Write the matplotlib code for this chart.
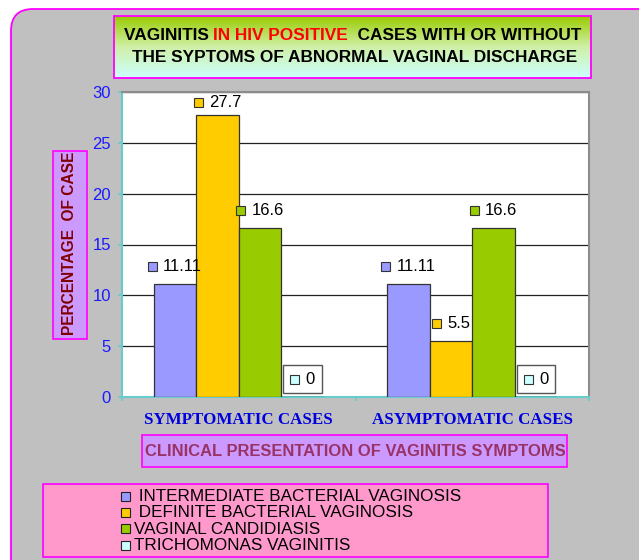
import matplotlib
matplotlib.use('Agg')
import matplotlib.pyplot as plt
import numpy as np
from matplotlib.patches import FancyBboxPatch, Rectangle
from matplotlib.offsetbox import AnnotationBbox, HPacker, TextArea, DrawingArea
from matplotlib.colors import LinearSegmentedColormap

# ---------------- data ----------------
categories = ['SYMPTOMATIC CASES', 'ASYMPTOMATIC CASES']
series_names = [' INTERMEDIATE BACTERIAL VAGINOSIS', ' DEFINITE BACTERIAL VAGINOSIS',
                'VAGINAL CANDIDIASIS', 'TRICHOMONAS VAGINITIS']
intermediate_bv = [11.11, 11.11]
definite_bv = [27.7, 5.5]
candidiasis = [16.6, 16.6]
trichomonas = [0, 0]
y_ticks = [0, 5, 10, 15, 20, 25, 30]
title_parts = [('VAGINITIS ', 'black'), ('IN HIV POSITIVE', '#FF0000'), ('  CASES WITH OR WITHOUT', 'black')]
title_line2 = 'THE SYPTOMS OF ABNORMAL VAGINAL DISCHARGE'
y_title = 'PERCENTAGE  OF CASE'
x_title = 'CLINICAL PRESENTATION OF VAGINITIS SYMPTOMS'

series = [intermediate_bv, definite_bv, candidiasis, trichomonas]
colors = ['#9999FF', '#FFCC00', '#99CC00', '#CCFFFF']

W, H = 639, 560
fig = plt.figure(figsize=(W / 100, H / 100), dpi=100)
fig.patch.set_facecolor('white')

SANS = 'Liberation Sans'
SERIF = 'Liberation Serif'

# ---------------- background / decorations (pixel coords) ----------------
bg = fig.add_axes([0, 0, 1, 1])
bg.set_zorder(0)
bg.axis('off')

bg.add_patch(FancyBboxPatch((11, 9), 700, 620, boxstyle='round,pad=0,rounding_size=22',
                            fc='#C0C0C0', ec='#FF00FF', lw=1.3))

# title box with gradient
grad = np.linspace(0, 1, 200)[:, None]
cmap = LinearSegmentedColormap.from_list('g', ['#99CC00', '#D0F0A8', '#CCFFFF'])
bg.imshow(grad, extent=[114, 591, 78, 16], cmap=cmap, aspect='auto', zorder=1, interpolation='bilinear')
bg.add_patch(Rectangle((114, 16), 477, 62, fill=False, ec='#FF00FF', lw=1.3, zorder=2))

# y title box
bg.add_patch(Rectangle((53, 151), 34, 188, fc='#CC99FF', ec='#FF00FF', lw=1.2, zorder=1))
bg.text(70, 243, y_title, rotation=90, ha='center', va='center', fontsize=11.2,
        fontweight='bold', color='#800000', family=SANS, zorder=3)

# x title box
bg.add_patch(Rectangle((142, 435), 425, 32, fc='#CC99FF', ec='#FF00FF', lw=1.2, zorder=1))
bg.text(355, 451.5, x_title, ha='center', va='center', fontsize=11.9,
        fontweight='bold', color='#993366', family=SANS, zorder=3)

# legend box
bg.add_patch(Rectangle((43, 484), 505, 73, fc='#FF99CC', ec='#FF00FF', lw=1.2, zorder=1))
for i, (name, c) in enumerate(zip(series_names, colors)):
    yy = 496 + i * 16.4
    bg.add_patch(Rectangle((121, yy - 4.5), 9, 9, fc=c, ec='#222222', lw=0.8, zorder=3))
    bg.text(134, yy + 0.5, name, ha='left', va='center', fontsize=12.3, color='black',
            family=SANS, zorder=3)

bg.set_xlim(0, W)
bg.set_ylim(H, 0)

# title text (multi-colour first line)
renderer = fig.canvas.get_renderer()
tprops = dict(fontsize=12.4, fontweight='bold', family=SANS, va='center', ha='left', zorder=3)
pieces = []
for txt, col in title_parts:
    pieces.append(bg.text(0, 35, txt, color=col, **tprops))
widths = [p.get_window_extent(renderer).width for p in pieces]
x0 = 352.5 - sum(widths) / 2
for p, wd in zip(pieces, widths):
    p.set_x(x0)
    x0 += wd
bg.text(355, 57.5, title_line2, color='black', **{**tprops, 'ha': 'center'})

# ---------------- main axes ----------------
ax = fig.add_axes([122 / W, 1 - 397 / H, 467 / W, 305 / H])
ax.set_zorder(2)
ax.set_facecolor('white')

x = np.arange(len(categories))
w = 0.182
for i, (vals, c) in enumerate(zip(series, colors)):
    ax.bar(x + (i - 1.5) * w, vals, w, color=c, edgecolor='#333333', linewidth=0.9, zorder=3)

ax.set_xlim(-0.5, len(categories) - 0.5)
ax.set_ylim(0, 30)
ax.set_yticks(y_ticks)
ax.yaxis.grid(True, color='#222222', lw=0.9, zorder=0)
ax.set_axisbelow(True)

for s in ['left', 'bottom']:
    ax.spines[s].set_color('#66CCCC')
    ax.spines[s].set_linewidth(1.5)
for s in ['top', 'right']:
    ax.spines[s].set_color('#8C8C8C')
    ax.spines[s].set_linewidth(1.5)

ax.tick_params(axis='y', direction='out', length=3, color='#66CCCC', width=1.2,
               labelsize=12, labelcolor='#1A1AFF', pad=5)
for lab in ax.get_yticklabels():
    lab.set_family(SANS)

ax.set_xticks(x)
ax.set_xticklabels(categories, fontfamily=SERIF, fontweight='bold', fontsize=12.2, color='#0000DD')
ax.tick_params(axis='x', which='major', length=0, pad=11)
ax.set_xticks(np.arange(-0.5, len(categories)), minor=True)
ax.tick_params(axis='x', which='minor', direction='out', length=3, color='#66CCCC', width=1.2)

# data labels (Excel-style with legend key)
for i, (vals, c) in enumerate(zip(series, colors)):
    for xi, v in zip(x, vals):
        da = DrawingArea(7, 7, 0, 0)
        da.add_artist(Rectangle((0, 0), 6.5, 6.5, fc=c, ec='#333333', lw=0.8))
        ta = TextArea(f"{v:g}", textprops=dict(fontsize=12, family=SANS, color='black'))
        pack = HPacker(children=[da, ta], align='center', pad=0, sep=4)
        yc = min(v + 1.77, 29.0)
        boxed = (v == 0)
        ab = AnnotationBbox(pack, (xi + (i - 1.5) * w, yc), xycoords='data',
                            box_alignment=(0.5, 0.5), frameon=boxed, pad=0.5,
                            bboxprops=dict(fc='white', ec='#555555', lw=1.0))
        ab.set_zorder(5)
        ax.add_artist(ab)

fig.savefig('out.png', dpi=100)
